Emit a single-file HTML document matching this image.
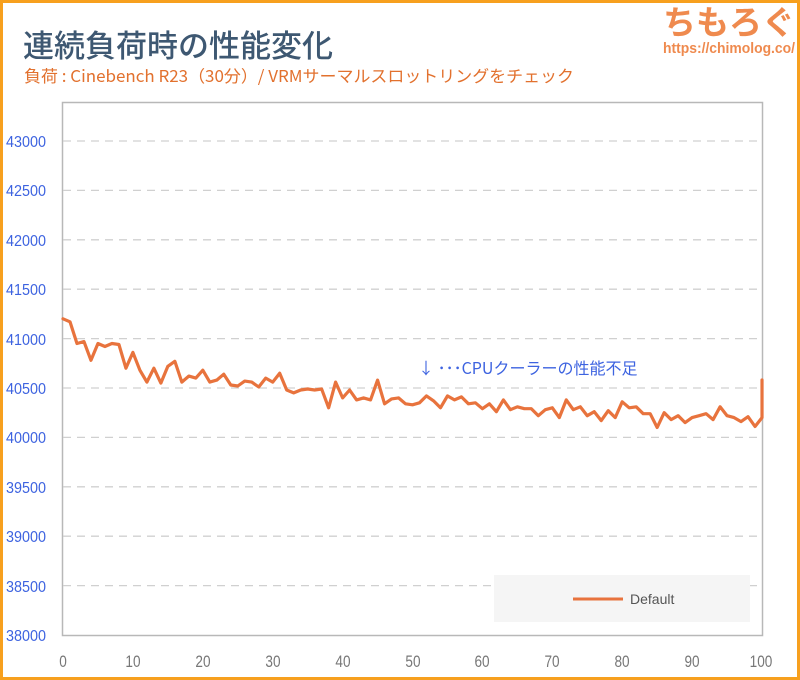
<!DOCTYPE html>
<html><head><meta charset="utf-8"><style>
body{margin:0;background:#fff}
svg{display:block}
</style></head><body>
<svg width="800" height="680" viewBox="0 0 800 680" xmlns="http://www.w3.org/2000/svg" font-family="Liberation Sans, Noto Sans CJK JP, sans-serif">
<rect x="1.5" y="1.5" width="797" height="677" fill="#fff" stroke="#f7a01e" stroke-width="3"/>
<text x="23" y="57" font-size="31" font-weight="500" fill="#3e5872" font-family="Noto Sans CJK JP, sans-serif">連続負荷時の性能変化</text>
<text x="24" y="82" font-size="16.5" fill="#e2712e" font-family="Noto Sans CJK JP, sans-serif" textLength="550" lengthAdjust="spacingAndGlyphs">負荷 : Cinebench R23（30分）/ VRMサーマルスロットリングをチェック</text>
<text x="795" y="34" font-size="33" font-weight="bold" fill="#ef8a4e" text-anchor="end" font-family="Noto Sans CJK JP, sans-serif" textLength="132" lengthAdjust="spacingAndGlyphs">ちもろぐ</text>
<text x="795" y="53" font-size="15" font-weight="bold" fill="#ef8a4e" text-anchor="end" textLength="132" lengthAdjust="spacingAndGlyphs">https://chimolog.co/</text>
<rect x="62.5" y="102.5" width="700" height="533" fill="#fff" stroke="#b8b8b8" stroke-width="1.5"/>
<g stroke="#d0d0d0" stroke-width="1.3" stroke-dasharray="8,6">
<line x1="63" x2="762" y1="141" y2="141"/><line x1="63" x2="762" y1="190.4" y2="190.4"/>
<line x1="63" x2="762" y1="239.8" y2="239.8"/><line x1="63" x2="762" y1="289.2" y2="289.2"/>
<line x1="63" x2="762" y1="338.6" y2="338.6"/><line x1="63" x2="762" y1="388" y2="388"/>
<line x1="63" x2="762" y1="437.4" y2="437.4"/><line x1="63" x2="762" y1="486.8" y2="486.8"/>
<line x1="63" x2="762" y1="536.2" y2="536.2"/><line x1="63" x2="762" y1="585.6" y2="585.6"/>
</g>
<g fill="#3d63e0" font-size="16" text-anchor="end">
<text x="46" y="147" textLength="40" lengthAdjust="spacingAndGlyphs">43000</text>
<text x="46" y="196" textLength="40" lengthAdjust="spacingAndGlyphs">42500</text>
<text x="46" y="246" textLength="40" lengthAdjust="spacingAndGlyphs">42000</text>
<text x="46" y="295" textLength="40" lengthAdjust="spacingAndGlyphs">41500</text>
<text x="46" y="345" textLength="40" lengthAdjust="spacingAndGlyphs">41000</text>
<text x="46" y="394" textLength="40" lengthAdjust="spacingAndGlyphs">40500</text>
<text x="46" y="443" textLength="40" lengthAdjust="spacingAndGlyphs">40000</text>
<text x="46" y="493" textLength="40" lengthAdjust="spacingAndGlyphs">39500</text>
<text x="46" y="542" textLength="40" lengthAdjust="spacingAndGlyphs">39000</text>
<text x="46" y="592" textLength="40" lengthAdjust="spacingAndGlyphs">38500</text>
<text x="46" y="641" textLength="40" lengthAdjust="spacingAndGlyphs">38000</text>
</g>
<g fill="#777" font-size="17" text-anchor="middle" transform="scale(0.8,1)">
<text x="78.75" y="667">0</text><text x="166.25" y="667">10</text><text x="253.75" y="667">20</text>
<text x="341.25" y="667">30</text><text x="428.75" y="667">40</text><text x="516.25" y="667">50</text>
<text x="602.5" y="667">60</text><text x="690" y="667">70</text><text x="777.5" y="667">80</text>
<text x="865" y="667">90</text><text x="951.25" y="667">100</text>
</g>
<text x="418" y="374" font-size="16" fill="#3d63e0" font-family="Noto Sans CJK JP, sans-serif">↓ ･･･CPUクーラーの性能不足</text>
<rect x="494" y="575" width="256" height="47" fill="#f5f5f5"/>
<line x1="573" x2="623" y1="599" y2="599" stroke="#e8733d" stroke-width="3"/>
<text x="630" y="604" font-size="14" fill="#555">Default</text>
<g transform="translate(63,0) scale(0.9986,1)">
<polyline fill="none" stroke="#e8733d" stroke-width="3.2" stroke-linejoin="round" stroke-linecap="round" points="0,318.8 7,321.8 14,343.5 21,341.6 28,360.3 35,343.5 42,346.5 49,343.5 56,344.5 63,368.2 70,352.4 77,370.2 84,382.1 91,368.2 98,383.1 105,366.3 112,361.3 119,382.1 126,376.1 133,378.1 140,370.2 147,382.1 154,380.1 161,374.2 168,385 175,386 182,381.1 189,382.1 196,387 203,378.1 210,382.1 217,373.2 224,390 231,392.9 238,390 245,389 252,390 259,389 266,407.8 273,382.1 280,397.9 287,390 294,399.9 301,397.9 308,399.9 315,380.1 322,403.8 329,398.9 336,397.9 343,403.8 350,404.8 357,402.8 364,395.9 371,400.8 378,407.8 385,395.9 392,399.9 399,396.9 406,403.8 413,402.8 420,408.7 427,403.8 434,411.7 441,399.9 448,409.7 455,406.8 462,408.7 469,408.7 476,415.7 483,409.7 490,407.8 497,417.6 504,399.9 511,409.7 518,406.8 525,415.7 532,411.7 539,420.6 546,410.7 553,417.6 560,401.8 567,407.8 574,406.8 581,413.7 588,413.7 595,427.5 602,412.7 609,419.6 616,415.7 623,422.6 630,417.6 637,415.7 644,413.7 651,419.6 658,406.8 665,415.7 672,417.6 679,421.6 686,416.7 693,426.5 700,417.6 700,380"/>
</g>
</svg>
</body></html>
